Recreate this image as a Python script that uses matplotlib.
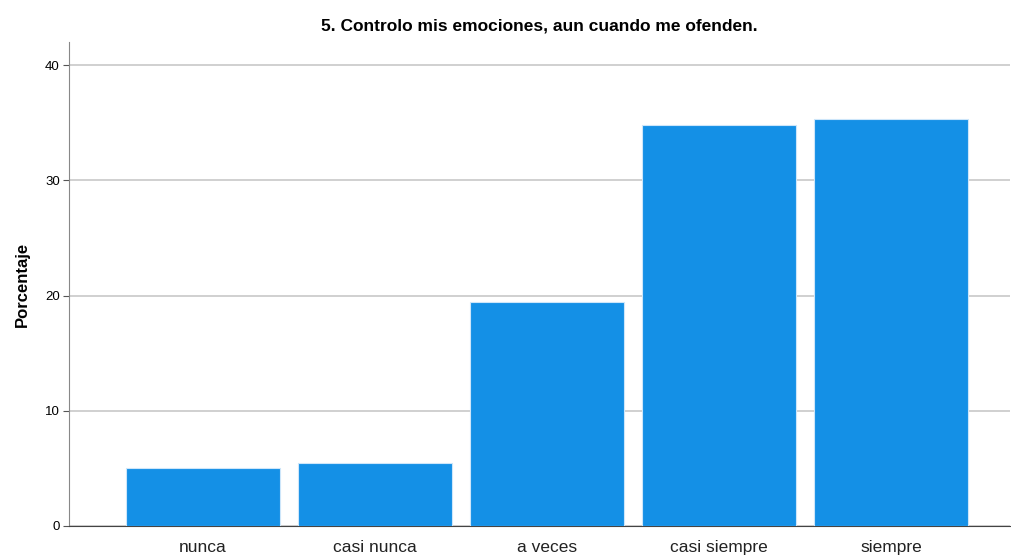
import matplotlib.pyplot as plt

categories = ["nunca", "casi nunca", "a veces", "casi siempre", "siempre"]
percentages = [5.0, 5.5, 19.4, 34.8, 35.3]
yticks = [0, 10, 20, 30, 40]

plt.rcParams["font.family"] = ["Liberation Sans", "DejaVu Sans"]

fig = plt.figure(figsize=(10.11, 5.56), dpi=100)
ax = fig.add_axes([0.0687, 0.054, 0.9303, 0.8705])

ax.bar(range(len(categories)), percentages, width=0.895, color="#1490e6",
       edgecolor="#cde6fa", linewidth=0.8, zorder=3)

ax.set_xlim(-0.776, 4.692)
ax.set_ylim(0, 42)
ax.set_yticks(yticks)
ax.set_xticks(range(len(categories)))
ax.set_xticklabels(categories, fontsize=12.5)
ax.tick_params(axis="x", length=0, pad=10, colors="#222222")
ax.tick_params(axis="y", length=4, width=0.8, color="#555555", labelsize=9.5, pad=3)
ax.yaxis.grid(True, color="#c8c8c8", linewidth=1.2, zorder=0)

for side in ["top", "right"]:
    ax.spines[side].set_visible(False)
ax.spines["left"].set_color("#888888")
ax.spines["bottom"].set_color("#444444")

ax.set_ylabel("Porcentaje", fontsize=12, fontweight="bold", labelpad=11)
ax.set_title("5. Controlo mis emociones, aun cuando me ofenden.", fontsize=12.5,
             fontweight="bold", pad=8)

fig.savefig("out.png", dpi=100)
